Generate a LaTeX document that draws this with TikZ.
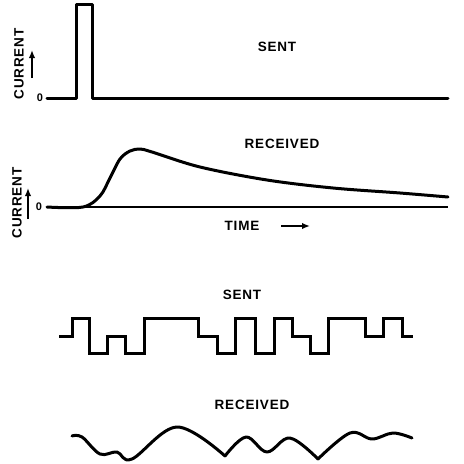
\documentclass[tikz,border=0pt]{standalone}
\usepackage{fontspec}
\setmainfont{Liberation Sans}
\usetikzlibrary{arrows.meta}

\begin{document}
\begin{tikzpicture}[x=1pt,y=-1pt,
label/.style={font=\fontsize{13.5}{13.5}\selectfont\bfseries\addfontfeature{LetterSpace=6}, inner sep=0pt},
zero/.style={font=\fontsize{11}{11}\selectfont\bfseries, inner sep=0pt},
axis/.style={line width=2.2pt},
signal/.style={line width=3pt, line join=round, line cap=round},
pointer/.style={line width=2.4pt, -{Latex[length=8pt,width=6.5pt]}}]
\useasboundingbox (0,0) rectangle (464,464);
% top: one short pulse
\node[label] (sent1) at (277,47) {SENT};
\node[label, rotate=90] (cur1) at (19,64) {CURRENT};
\node[zero] (zero1) at (40,98) {0};
\coordinate (up1a) at (32,78);
\coordinate (up1b) at (32,50);
\draw[pointer] (up1a) -- (up1b);
\draw[signal] (47,98) -- (76,98) -- (76,4) -- (92,4) -- (92,98) -- (448,98);
% middle: what comes out
\node[label] (recv1) at (282,144) {RECEIVED};
\node[label, rotate=90] (cur2) at (17,203) {CURRENT};
\node[zero] (zero2) at (39,207) {0};
\coordinate (up2a) at (28,219);
\coordinate (up2b) at (28,188);
\draw[pointer] (up2a) -- (up2b);
\draw[axis] (47,207) -- (448,207);
\draw[signal] plot[smooth, tension=0.55] coordinates {(47,207) (83,207) (100,196) (110,178) (120,159) (130,151) (140,149) (152,152) (200,167) (267,180) (333,188) (400,193) (448,197)};
\node[label] (time) at (242,226) {TIME};
\coordinate (tmA) at (281,226);
\coordinate (tmB) at (310,226);
\draw[pointer] (tmA) -- (tmB);
% bottom: a train of pulses
\node[label] (sent2) at (242,295) {SENT};
\draw[signal, line cap=butt, line join=miter] (59,336) -| (72,318) -| (89,353) -| (107,336) -| (125,353) -| (144,318) -| (198,336) -| (217,353) -| (235,318) -| (255,353) -| (274,318) -| (292,336) -| (310,353) -| (328,318) -| (365,336) -| (383,318) -| (402,336) -- (413,336);
\node[label] (recv2) at (252,405) {RECEIVED};
\draw[signal] plot[smooth, tension=0.6] coordinates {(72,436) (82,437) (100,454) (117,452) (132,459) (177,427) (225,456)};
\draw[signal] plot[smooth, tension=0.6] coordinates {(225,456) (246,437) (267,452) (290,438) (318,459)};
\draw[signal] plot[smooth, tension=0.6] coordinates {(318,459) (350,433) (372,439) (393,433) (412,438)};
\end{tikzpicture}
\end{document}
